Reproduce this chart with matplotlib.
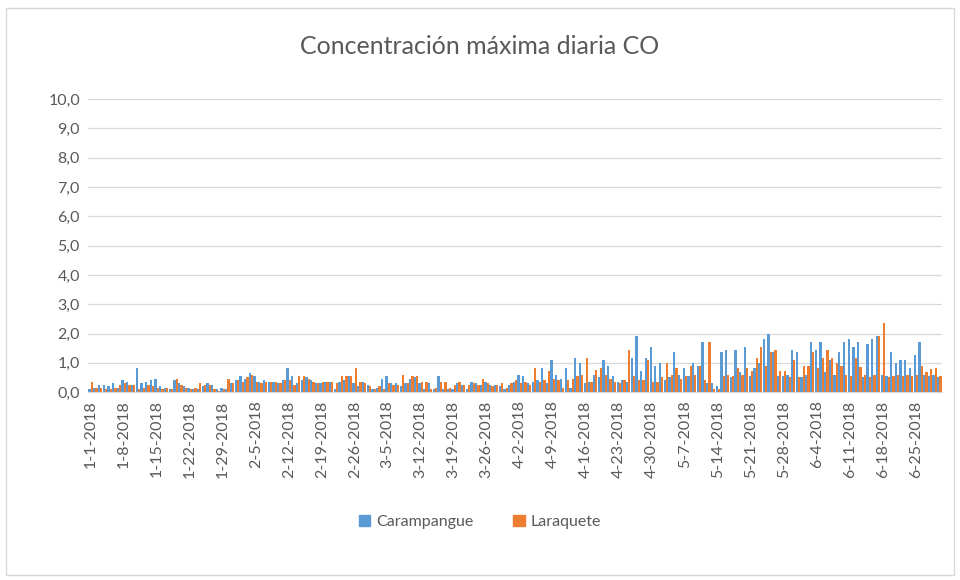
import pandas as pd
import matplotlib
matplotlib.use("Agg")
import matplotlib.pyplot as plt
from matplotlib.patches import Patch, Rectangle

plt.rcParams['font.family'] = ['Lato', 'DejaVu Sans']

# daily maximum CO, 1-1-2018 .. 6-30-2018 (one row per week)
carampangue = [
    0.10, 0.15, 0.25, 0.25, 0.20, 0.30, 0.15,
    0.40, 0.35, 0.25, 0.82, 0.30, 0.35, 0.40,
    0.45, 0.20, 0.15, 0.10, 0.40, 0.30, 0.20,
    0.15, 0.10, 0.10, 0.20, 0.30, 0.25, 0.10,
    0.15, 0.10, 0.30, 0.40, 0.55, 0.45, 0.65,
    0.55, 0.35, 0.40, 0.35, 0.35, 0.30, 0.40,
    0.82, 0.55, 0.30, 0.40, 0.50, 0.40, 0.30,
    0.30, 0.35, 0.35, 0.10, 0.35, 0.40, 0.55,
    0.30, 0.20, 0.35, 0.25, 0.10, 0.15, 0.45,
    0.55, 0.30, 0.30, 0.20, 0.30, 0.45, 0.50,
    0.30, 0.10, 0.30, 0.10, 0.55, 0.10, 0.10,
    0.10, 0.30, 0.25, 0.10, 0.35, 0.30, 0.25,
    0.35, 0.25, 0.25, 0.20, 0.10, 0.25, 0.35,
    0.60, 0.55, 0.30, 0.35, 0.40, 0.82, 0.30,
    1.09, 0.60, 0.45, 0.82, 0.15, 1.16, 1.00,
    0.30, 0.35, 0.60, 0.50, 1.09, 0.89, 0.55,
    0.35, 0.40, 0.35, 1.16, 1.91, 0.72, 1.16,
    1.53, 0.89, 1.00, 0.40, 0.50, 1.36, 0.60,
    0.82, 0.55, 1.00, 0.89, 1.70, 0.30, 0.30,
    0.20, 1.36, 1.43, 0.50, 1.43, 0.70, 1.53,
    0.55, 0.82, 1.00, 1.80, 1.98, 1.36, 0.55,
    0.55, 0.60, 1.43, 1.36, 0.50, 0.60, 1.70,
    1.43, 1.70, 0.70, 1.09, 0.60, 1.36, 1.70,
    1.80, 1.53, 1.70, 0.50, 1.64, 1.80, 1.91,
    0.60, 0.55, 1.36, 1.00, 1.09, 1.09, 0.82,
    1.26, 1.70, 0.60, 0.55, 0.60, 0.50,
]
laraquete = [
    0.35, 0.15, 0.15, 0.10, 0.10, 0.15, 0.25,
    0.30, 0.25, 0.25, 0.10, 0.15, 0.25, 0.20,
    0.15, 0.10, 0.15, 0.10, 0.45, 0.25, 0.15,
    0.10, 0.15, 0.30, 0.25, 0.25, 0.10, 0.05,
    0.10, 0.45, 0.30, 0.40, 0.35, 0.50, 0.60,
    0.35, 0.30, 0.35, 0.35, 0.35, 0.30, 0.40,
    0.40, 0.25, 0.55, 0.55, 0.45, 0.35, 0.30,
    0.35, 0.35, 0.35, 0.30, 0.55, 0.55, 0.55,
    0.82, 0.35, 0.30, 0.20, 0.10, 0.20, 0.10,
    0.30, 0.25, 0.25, 0.60, 0.30, 0.55, 0.55,
    0.35, 0.35, 0.10, 0.15, 0.35, 0.35, 0.15,
    0.25, 0.35, 0.25, 0.25, 0.30, 0.25, 0.45,
    0.30, 0.20, 0.25, 0.30, 0.15, 0.30, 0.40,
    0.30, 0.35, 0.25, 0.82, 0.35, 0.40, 0.72,
    0.45, 0.40, 0.15, 0.40, 0.45, 0.55, 0.60,
    1.16, 0.35, 0.75, 0.82, 0.60, 0.45, 0.35,
    0.30, 0.40, 1.43, 0.55, 0.40, 0.40, 1.09,
    0.35, 0.35, 0.50, 1.00, 0.60, 0.82, 0.45,
    0.55, 0.89, 0.60, 0.89, 0.40, 1.70, 0.10,
    0.10, 0.55, 0.60, 0.55, 0.82, 0.60, 0.82,
    0.72, 1.16, 1.53, 0.90, 1.36, 1.43, 0.72,
    0.72, 0.50, 1.09, 0.50, 0.89, 0.89, 1.36,
    0.82, 1.16, 1.43, 1.16, 1.00, 0.90, 0.60,
    0.55, 1.16, 0.85, 0.60, 0.50, 0.60, 1.91,
    2.35, 0.50, 0.55, 0.60, 0.55, 0.60, 0.55,
    0.60, 0.89, 0.70, 0.80, 0.82, 0.55,
]
dates = pd.date_range("2018-01-01", periods=len(carampangue), freq="D")
labels = [f"{d.month}-{d.day}-{d.year}" for d in dates]

blue = "#5B9BD5"
orange = "#ED7D31"
grey = "#595959"

fig = plt.figure(figsize=(9.6, 5.8), dpi=100)
fig.patches.append(Rectangle((0.006, 0.008), 0.988, 0.978, transform=fig.transFigure,
                             fill=False, edgecolor="#D9D9D9", linewidth=1))
ax = fig.add_axes([0.092, 0.324, 0.889, 0.505])

x = list(range(len(dates)))
w = 0.48
ax.bar([i - w / 2 for i in x], carampangue, width=w, color=blue, label="Carampangue")
ax.bar([i + w / 2 for i in x], laraquete, width=w, color=orange, label="Laraquete")

ax.set_xlim(-0.5, len(x) - 0.5)
ax.set_ylim(0, 10)
ax.set_yticks(range(0, 11))
ax.set_yticklabels([f"{v:.1f}".replace(".", ",") for v in range(0, 11)], color=grey, fontsize=11.5)
ax.set_xticks(x[::7])
ax.set_xticklabels(labels[::7], rotation=90, color=grey, fontsize=11.5)
ax.tick_params(length=0, pad=6)

ax.grid(axis="y", color="#D9D9D9", linewidth=0.9)
ax.set_axisbelow(True)
for s in ["top", "right", "left"]:
    ax.spines[s].set_visible(False)
ax.spines["bottom"].set_color("#D9D9D9")

fig.text(0.5, 0.92, "Concentración máxima diaria CO", ha="center", va="center",
         fontsize=18, color=grey)

handles = [Patch(color=blue), Patch(color=orange)]
fig.legend(handles, ["Carampangue", "Laraquete"], loc="center", bbox_to_anchor=(0.5, 0.1),
           ncol=2, frameon=False, fontsize=11.5, labelcolor=grey, handlelength=0.7,
           handleheight=0.7, columnspacing=2.5, handletextpad=0.4)

fig.savefig("out.png", dpi=100)
